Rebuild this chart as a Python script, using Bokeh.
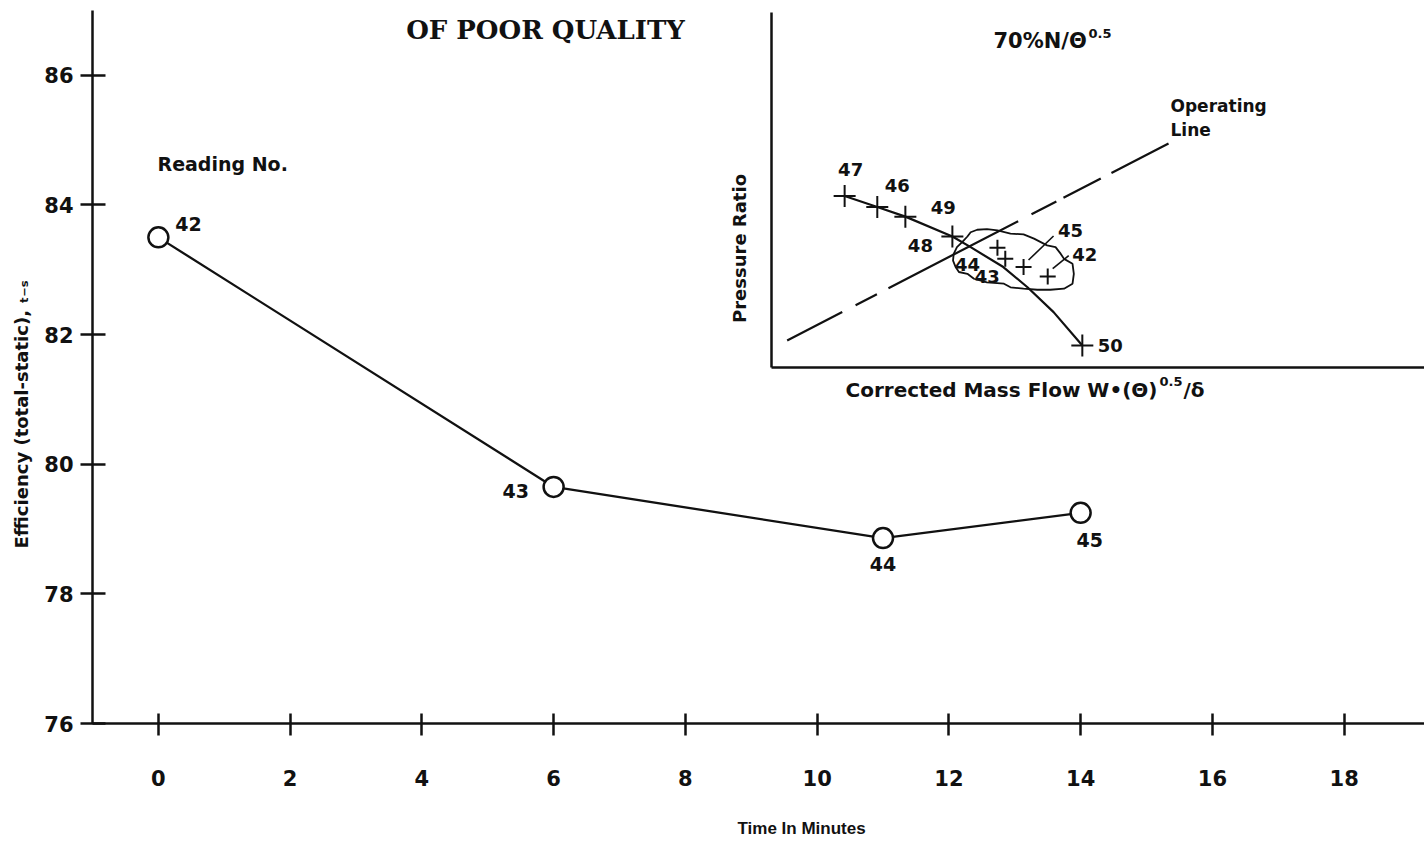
import math
from bokeh.plotting import figure
from bokeh.models import Range1d, FixedTicker, Title, ColumnDataSource
from bokeh.core.properties import value
from bokeh.embed import file_html
from bokeh.resources import INLINE

# ---------------- main chart data ----------------
TIME_MIN = [0, 6, 11, 14]
EFFICIENCY = [83.5, 79.65, 78.86, 79.25]
READING_NO = ["42", "43", "44", "45"]
X_TICKS = [0, 2, 4, 6, 8, 10, 12, 14, 16, 18]
Y_TICKS = [76, 78, 80, 82, 84, 86]

# ---------------- inset (compressor map, relative units) ----------------
CHAR_FLOW = [1.12, 1.62, 2.05, 2.77, 3.05, 3.55, 3.92, 4.32, 4.76]
CHAR_PR = [4.83, 4.52, 4.25, 3.69, 3.39, 2.83, 2.26, 1.56, 0.62]
MAP_READING = ["47", "46", "49", "48", "50"]
MAP_FLOW = [1.12, 1.62, 2.05, 2.77, 4.76]
MAP_PR = [4.83, 4.52, 4.25, 3.69, 0.62]
RUN_READING = ["44", "43", "45", "42"]
RUN_FLOW = [3.46, 3.58, 3.86, 4.23]
RUN_PR = [3.37, 3.06, 2.83, 2.56]
OPLINE_FLOW = [0.24, 6.08]
OPLINE_PR = [0.76, 6.31]
CLOUD_FLOW = [3.05, 3.15, 3.30, 3.46, 3.66, 3.86, 4.02, 4.22, 4.35, 4.43, 4.48, 4.61,
              4.63, 4.61, 4.48, 4.27, 4.07, 3.86, 3.66, 3.56, 3.30, 3.10, 3.00, 2.87,
              2.82, 2.78, 2.79, 2.84, 2.92, 3.00]
CLOUD_PR = [3.81, 3.88, 3.90, 3.86, 3.77, 3.75, 3.63, 3.44, 3.39, 3.20, 3.06, 2.92,
            2.64, 2.36, 2.22, 2.19, 2.19, 2.22, 2.26, 2.36, 2.40, 2.50, 2.64, 2.69,
            2.83, 3.01, 3.20, 3.39, 3.53, 3.69]

# ---------------- layout constants (page pixels; page has no margin) ----------------
W, H = 1424, 842
B_LEFT, B_TOP, B_BOTTOM, B_RIGHT = 92, 10, 119, 0
FW, FH = W - B_LEFT - B_RIGHT, H - B_TOP - B_BOTTOM
X0, X1 = -1.0, 19.22
Y0, Y1 = 76.0, 87.0
PXX = FW / (X1 - X0)
PXY = FH / (Y1 - Y0)
PAGE_L, PAGE_T = B_LEFT, B_TOP


def dx(px):            # page x -> main data x
    return X0 + (px - PAGE_L) / PXX


def dy(py):            # page y -> main data y
    return Y1 - (py - PAGE_T) / PXY


# inset frame in page pixels
IN_L, IN_B, IN_T, IN_R = 771, 367, 12, 1424
IX_MAX, IY_MAX = 10.0, 10.0
IPX = (IN_R - IN_L) / IX_MAX
IPY = (IN_B - IN_T) / IY_MAX

FONT = "DejaVu Sans"
BLACK = "#111111"

p = figure(width=W, height=H, output_backend="svg", toolbar_location=None,
           x_range=Range1d(X0, X1), y_range=Range1d(Y0, Y1),
           min_border_left=B_LEFT, min_border_right=B_RIGHT,
           min_border_top=B_TOP, min_border_bottom=B_BOTTOM)
p.outline_line_color = None
p.grid.visible = False
p.background_fill_color = "white"
p.border_fill_color = "white"

p.extra_x_ranges = {"ix": Range1d(-(IN_L - PAGE_L) / IPX, (PAGE_L + FW - IN_L) / IPX)}
p.extra_y_ranges = {"iy": Range1d(-(PAGE_T + FH - IN_B) / IPY, (IN_B - PAGE_T) / IPY)}

# ---------- axes ----------
for ax, ticks in ((p.xaxis, X_TICKS), (p.yaxis, Y_TICKS)):
    ax.ticker = FixedTicker(ticks=ticks)
    ax.minor_tick_line_color = None
    ax.axis_line_width = 2.5
    ax.axis_line_color = BLACK
    ax.major_tick_line_width = 2.5
    ax.major_tick_line_color = BLACK
    ax.major_label_text_font = FONT
    ax.major_label_text_font_style = "bold"
    ax.major_label_text_font_size = "21px"
    ax.major_label_text_color = BLACK

p.xaxis.major_tick_in = 10
p.xaxis.major_tick_out = 12
p.xaxis.major_label_standoff = 34
p.yaxis.major_tick_in = 13
p.yaxis.major_tick_out = 12
p.yaxis.major_label_standoff = 7

# axis titles (side titles so they can sit off-centre like the original)
xtitle = Title(text="Time In Minutes", align="left", offset=737 - PAGE_L,
               vertical_align="top", standoff=0, text_font="Liberation Sans",
               text_font_style="bold", text_font_size="17px", text_color=BLACK)
try:
    xtitle.padding = dict(left=0, right=0, top=30, bottom=0)
except Exception:
    xtitle.standoff = 34
p.add_layout(xtitle, "below")
p.add_layout(Title(text="Efficiency (total-static), \u209c\u208b\u209b", align="left",
                   offset=PAGE_T + FH - 548, vertical_align="top", standoff=16,
                   text_font=FONT, text_font_style="bold", text_font_size="18px",
                   text_color=BLACK),
             "left")

# ---------- main series ----------
p.line(TIME_MIN, EFFICIENCY, line_width=2.3, line_color=BLACK)
p.scatter(TIME_MIN, EFFICIENCY, marker="circle", size=20, line_width=2.5,
          line_color=BLACK, fill_color="white")

LBL_OFF = [(30, -13), (-38, 4), (0, 26), (9, 27)]
src = ColumnDataSource(dict(
    x=[t + o[0] / PXX for t, o in zip(TIME_MIN, LBL_OFF)],
    y=[e - o[1] / PXY for e, o in zip(EFFICIENCY, LBL_OFF)],
    t=READING_NO))
p.text(x="x", y="y", text="t", source=src, text_font=value(FONT), text_font_style="bold",
       text_font_size="19px", text_align="center", text_baseline="middle", text_color=BLACK)

p.text(x=[dx(157)], y=[dy(163)], text=["Reading No."], text_font=value(FONT),
       text_font_style="bold", text_font_size="19px", text_align="left",
       text_baseline="middle", text_color=BLACK)
p.text(x=[dx(545)], y=[dy(29)], text=["OF POOR QUALITY"], text_font=value("DejaVu Serif"),
       text_font_style="bold", text_font_size="26px", text_align="center",
       text_baseline="middle", text_color=BLACK)

# ---------- inset ----------
IR = dict(x_range_name="ix", y_range_name="iy")
p.segment(x0=[0, 0], y0=[0, 0], x1=[0, IX_MAX], y1=[IY_MAX, 0], line_width=2.5,
          line_color=BLACK, **IR)
p.line(OPLINE_FLOW, OPLINE_PR, line_width=2.2, line_color=BLACK,
       line_dash="62 15 24 13 146 15 28 8 42 12 70", **IR)
p.line(CHAR_FLOW, CHAR_PR, line_width=2.2, line_color=BLACK, **IR)
p.patch(CLOUD_FLOW, CLOUD_PR, fill_color=None, line_color=BLACK, line_width=1.8, **IR)
p.scatter(MAP_FLOW, MAP_PR, marker="cross", size=22, line_width=2, line_color=BLACK, **IR)
p.scatter(RUN_FLOW, RUN_PR, marker="cross", size=16, line_width=2, line_color=BLACK, **IR)

MAP_OFF = [(6, -27), (20, -22), (38, -9), (-32, 9), (28, 0)]
RUN_OFF = [(-30, 17), (-18, 18), (47, -37), (37, -22)]
isrc = ColumnDataSource(dict(
    x=[f + o[0] / IPX for f, o in zip(MAP_FLOW + RUN_FLOW, MAP_OFF + RUN_OFF)],
    y=[r - o[1] / IPY for r, o in zip(MAP_PR + RUN_PR, MAP_OFF + RUN_OFF)],
    t=MAP_READING + RUN_READING))
p.text(x="x", y="y", text="t", source=isrc, text_font=value(FONT), text_font_style="bold",
       text_font_size="18px", text_align="center", text_baseline="middle",
       text_color=BLACK, **IR)

# leader lines for 45 and 42
LEAD = {"45": ((5, -7), (30, -31)), "42": ((5, -8), (21, -21))}
lx0, ly0, lx1, ly1 = [], [], [], []
for rd, f, r in zip(RUN_READING, RUN_FLOW, RUN_PR):
    if rd in LEAD:
        (a, b), (c, d) = LEAD[rd]
        lx0.append(f + a / IPX); ly0.append(r - b / IPY)
        lx1.append(f + c / IPX); ly1.append(r - d / IPY)
p.segment(x0=lx0, y0=ly0, x1=lx1, y1=ly1, line_width=1.6, line_color=BLACK, **IR)

# inset texts
TXT = dict(text_font=value(FONT), text_font_style="bold", text_color=BLACK,
           text_baseline="middle")
p.text(x=[dx(993)], y=[dy(40)], text=["70%N/\u0398"], text_font_size="21px",
       text_align="left", **TXT)
p.text(x=[dx(1088)], y=[dy(33)], text=["0.5"], text_font_size="13px",
       text_align="left", **TXT)
p.text(x=[dx(1170), dx(1170)], y=[dy(105), dy(129)], text=["Operating", "Line"],
       text_font_size="17px", text_align="left", **TXT)
p.text(x=[dx(739)], y=[dy(248)], text=["Pressure Ratio"], angle=math.pi / 2,
       text_font_size="18px", text_align="center", **TXT)
p.text(x=[dx(845)], y=[dy(389)], text=["Corrected Mass Flow W\u2022(\u0398)"],
       text_font_size="20px", text_align="left", **TXT)
p.text(x=[dx(1159)], y=[dy(381)], text=["0.5"], text_font_size="13px",
       text_align="left", **TXT)
p.text(x=[dx(1183)], y=[dy(389)], text=["/\u03b4"], text_font_size="20px",
       text_align="left", **TXT)

open("out.html", "w").write(file_html(p, INLINE))
